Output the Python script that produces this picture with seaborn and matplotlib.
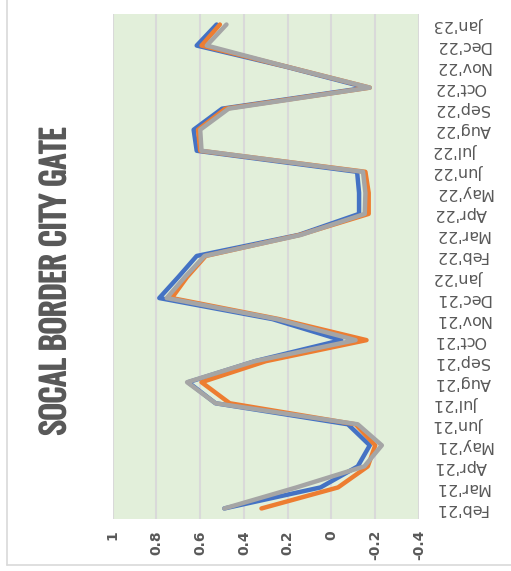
import matplotlib
matplotlib.use("Agg")
import matplotlib.pyplot as plt
import matplotlib.patheffects as pe
from matplotlib import font_manager
from matplotlib.lines import Line2D
import seaborn as sns
import numpy as np

months = ["Feb'21", "Mar'21", "Apr'21", "May'21", "Jun'21", "Jul'21", "Aug'21", "Sep'21",
          "Oct'21", "Nov'21", "Dec'21", "Jan'22", "Feb'22", "Mar'22", "Apr'22", "May'22",
          "Jun'22", "Jul'22", "Aug'22", "Sep'22", "Oct'22", "Nov'22", "Dec'22", "Jan'23"]
blue = [0.49, 0.05, -0.12, -0.175, -0.075, 0.53, 0.655, 0.35, -0.045, 0.27, 0.787, 0.70,
        0.616, 0.15, -0.126, -0.126, -0.117, 0.616, 0.63, 0.50, -0.16, 0.21, 0.616, 0.525]
orange = [0.32, -0.03, -0.166, -0.2, -0.11, 0.465, 0.594, 0.30, -0.16, 0.24, 0.73, 0.66,
          0.575, 0.145, -0.17, -0.17, -0.155, 0.60, 0.61, 0.485, -0.175, 0.205, 0.594, 0.51]
gray = [0.49, 0.16, -0.15, -0.23, -0.12, 0.53, 0.66, 0.35, -0.11, 0.25, 0.753, 0.67,
        0.58, 0.14, -0.152, -0.155, -0.144, 0.594, 0.60, 0.47, -0.175, 0.205, 0.57, 0.48]
value_ticks = [1, 0.8, 0.6, 0.4, 0.2, 0, -0.2, -0.4]
title = "SOCAL BORDER CITY GATE"

sns.set_style("white")
installed = {f.name for f in font_manager.fontManager.ttflist}
title_font = next((f for f in ["Oswald", "Pathway Gothic One", "Roboto Condensed", "Fjalla One"]
                   if f in installed), "DejaVu Sans")

fig = plt.figure(figsize=(5.11, 5.71), dpi=100)
ax = fig.add_axes([0.2205, 0.0911, 0.5995, 0.8844])
ax.set_facecolor("#E2EFDA")

pos = np.arange(len(months))
for vals, col in [(blue, "#4472C4"), (orange, "#ED7D31"), (gray, "#A5A5A5")]:
    sns.lineplot(x=vals, y=pos, orient="y", sort=False, color=col, linewidth=3.2, ax=ax)

# rotated chart: value axis runs right-to-left along the bottom
ax.set_xlim(1, -0.4)
ax.set_ylim(-0.5, len(months) - 0.5)
ax.set_xticks(value_ticks)
ax.set_xticklabels([f"{v:g}" for v in value_ticks], rotation=90, fontsize=10,
                   fontweight="bold", color="#595959")
ax.set_yticks(pos)
ax.yaxis.tick_right()
ax.set_yticklabels(months, rotation=180, fontsize=11.5, color="#595959",
                   ha="left", va="center")
ax.tick_params(axis="x", length=0, pad=8)
ax.tick_params(axis="y", length=0, pad=11)
ax.grid(axis="x", color="#D9D9D9", linewidth=1.5)
ax.grid(axis="y", visible=False)
for s in ax.spines.values():
    s.set_visible(False)
ax.set_xlabel("")
ax.set_ylabel("")

fig.text(0.108, 0.507, title, rotation=90, ha="center", va="center",
         fontsize=23, fontweight="bold", color="#595959", family=title_font,
         path_effects=[pe.withStroke(linewidth=1.2, foreground="#595959")])

# chart frame edges
fig.add_artist(Line2D([7 / 511, 7 / 511], [1 - 565 / 571, 1], transform=fig.transFigure,
                      color="#D9D9D9", linewidth=1.2))
fig.add_artist(Line2D([7 / 511, 1], [1 - 565 / 571, 1 - 565 / 571], transform=fig.transFigure,
                      color="#D9D9D9", linewidth=1.2))

fig.savefig("out.png", dpi=100)
